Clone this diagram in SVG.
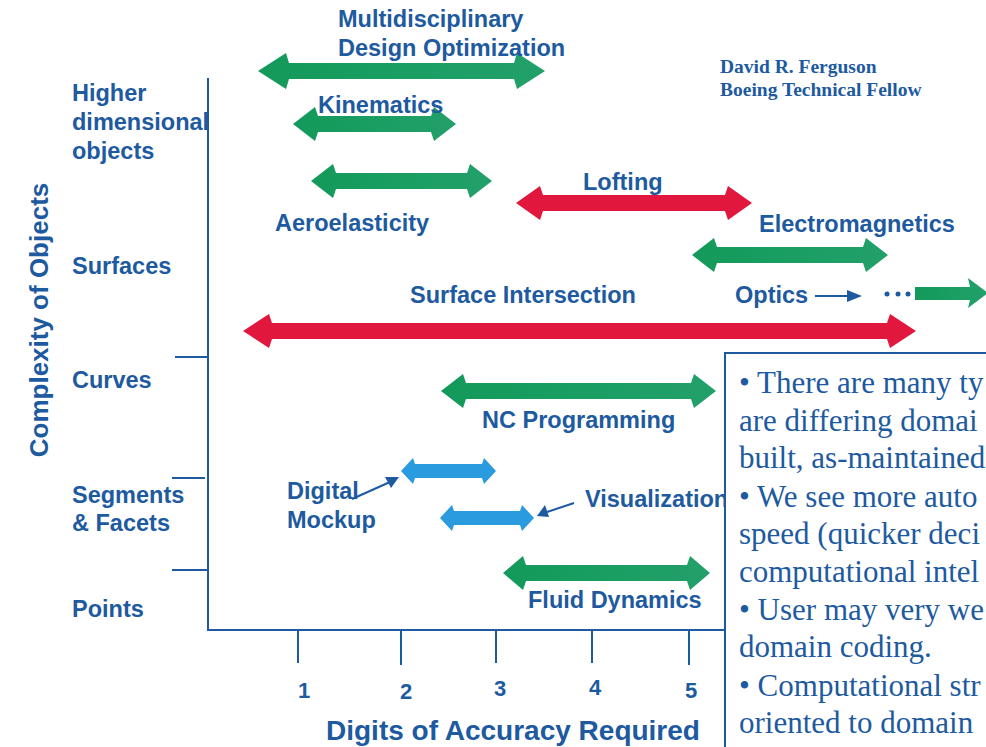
<svg xmlns="http://www.w3.org/2000/svg" width="986" height="747" viewBox="0 0 986 747">
<style>
.lbl{font-family:"Liberation Sans",Arial,sans-serif;font-weight:bold;font-size:23.5px;fill:#1d5aa0}
.ax{font-family:"Liberation Sans",Arial,sans-serif;font-weight:bold;fill:#1d5aa0}
.tm{font-family:"Liberation Serif","Times New Roman",serif;fill:#1d5aa0}
.ln{stroke:#1d5aa0;stroke-width:2;fill:none}
.g{fill:url(#gg)}
.r{fill:#e2173d}
.b{fill:#2b9be0}
.pt{fill:#1d5aa0}
</style>
<defs>
<linearGradient id="gg" x1="0" y1="0" x2="1" y2="0">
<stop offset="0" stop-color="#13995a"/>
<stop offset="0.5" stop-color="#1a9e62"/>
<stop offset="1" stop-color="#22a06a"/>
</linearGradient>
</defs>
<rect width="986" height="747" fill="#ffffff"/>

<g id="axes">
<line class="ln" x1="208" y1="78" x2="208" y2="631"/>
<line class="ln" x1="207" y1="630" x2="726" y2="630"/>
<line class="ln" x1="175" y1="357" x2="208" y2="357"/>
<line class="ln" x1="172" y1="478" x2="205" y2="478"/>
<line class="ln" x1="172" y1="570" x2="208" y2="570"/>
<line class="ln" x1="298" y1="630" x2="298" y2="663"/>
<line class="ln" x1="401" y1="630" x2="401" y2="665"/>
<line class="ln" x1="496" y1="630" x2="496" y2="663"/>
<line class="ln" x1="592" y1="630" x2="592" y2="663"/>
<line class="ln" x1="689" y1="630" x2="689" y2="665"/>
<text class="ax" font-size="22" x="304" y="698" text-anchor="middle">1</text>
<text class="ax" font-size="22" x="406" y="699" text-anchor="middle">2</text>
<text class="ax" font-size="22" x="500" y="696" text-anchor="middle">3</text>
<text class="ax" font-size="22" x="595" y="695" text-anchor="middle">4</text>
<text class="ax" font-size="22" x="691" y="698" text-anchor="middle">5</text>
<text class="ax" font-size="28" x="326" y="740">Digits of Accuracy Required</text>
<text class="ax" font-size="26" transform="translate(48,320) rotate(-90)" text-anchor="middle">Complexity of Objects</text>
<text class="lbl" x="72" y="101">Higher</text>
<text class="lbl" x="72" y="130">dimensional</text>
<text class="lbl" x="72" y="159">objects</text>
<text class="lbl" x="72" y="274">Surfaces</text>
<text class="lbl" x="72" y="388">Curves</text>
<text class="lbl" x="72" y="503">Segments</text>
<text class="lbl" x="72" y="531">&amp; Facets</text>
<text class="lbl" x="72" y="617">Points</text>
</g>

<g id="author">
<text class="tm" font-weight="bold" font-size="19.5" x="720" y="73">David R. Ferguson</text>
<text class="tm" font-weight="bold" font-size="19.5" x="720" y="96">Boeing Technical Fellow</text>
</g>

<g id="connectors">
<line class="ln" x1="352" y1="499" x2="390" y2="482"/>
<polygon class="pt" points="399,477 385,477 391,488"/>
<line class="ln" x1="574" y1="503" x2="547" y2="512"/>
<polygon class="pt" points="537,516 545,505 549,517"/>
<line class="ln" x1="815" y1="296" x2="850" y2="296"/>
<polygon class="pt" points="847,290 862,296 847,302"/>
<circle class="pt" cx="887" cy="294" r="2.5"/>
<circle class="pt" cx="898" cy="294" r="2.5"/>
<circle class="pt" cx="908" cy="294" r="2.5"/>
</g>

<g id="mdo">
<path class="g" d="M258,71 L286,53 L289,63 L514,63 L517,53 L545,71 L517,89 L514,79 L289,79 L286,89 Z"/>
<text class="lbl" x="338" y="27">Multidisciplinary</text>
<text class="lbl" x="338" y="56">Design Optimization</text>
</g>
<g id="kinematics">
<path class="g" d="M293,124 L315,107 L318,116 L431,116 L434,107 L456,124 L434,141 L431,132 L318,132 L315,141 Z"/>
<text class="lbl" x="318" y="113">Kinematics</text>
</g>
<g id="aeroelasticity">
<path class="g" d="M311,181 L333,164 L336,173 L467,173 L470,164 L492,181 L470,198 L467,189 L336,189 L333,198 Z"/>
<text class="lbl" x="275" y="231">Aeroelasticity</text>
</g>
<g id="lofting">
<path class="r" d="M516,203 L540,186 L543,195 L725,195 L728,186 L752,203 L728,220 L725,211 L543,211 L540,220 Z"/>
<text class="lbl" x="583" y="190">Lofting</text>
</g>
<g id="electromagnetics">
<path class="g" d="M692,255 L714,238 L717,247 L863,247 L866,238 L888,255 L866,272 L863,263 L717,263 L714,272 Z"/>
<text class="lbl" x="759" y="232">Electromagnetics</text>
</g>
<g id="surface-intersection">
<path class="r" d="M243,331 L269,314 L272,323 L887,323 L890,314 L916,331 L890,348 L887,339 L272,339 L269,348 Z"/>
<text class="lbl" x="410" y="303">Surface Intersection</text>
</g>
<g id="optics">
<text class="lbl" x="735" y="303">Optics</text>
<path class="g" d="M915,287 L970,287 L968,278 L988,293 L968,308 L970,300 L915,300 Z"/>
</g>
<g id="nc-programming">
<path class="g" d="M441,391 L463,374 L466,383 L691,383 L694,374 L716,391 L694,408 L691,399 L466,399 L463,408 Z"/>
<text class="lbl" x="482" y="428">NC Programming</text>
</g>
<g id="digital-mockup">
<path class="b" d="M401,471 L413,458 L415,464 L482,464 L484,458 L496,471 L484,484 L482,478 L415,478 L413,484 Z"/>
<text class="lbl" x="287" y="499">Digital</text>
<text class="lbl" x="287" y="528">Mockup</text>
</g>
<g id="visualization">
<path class="b" d="M440,518 L452,505 L454,511 L520,511 L522,505 L534,518 L522,531 L520,525 L454,525 L452,531 Z"/>
<text class="lbl" x="585" y="507">Visualization</text>
</g>
<g id="fluid-dynamics">
<path class="g" d="M503,573 L523,556 L526,565 L687,565 L690,556 L710,573 L690,590 L687,581 L526,581 L523,590 Z"/>
<text class="lbl" x="528" y="608">Fluid Dynamics</text>
</g>

<g id="notes">
<rect x="725" y="353" width="280" height="420" fill="#ffffff" stroke="#1d5aa0" stroke-width="2"/>
<g class="tm" font-size="31">
<text x="739" y="393">• There are many ty</text>
<text x="739" y="431">are differing domai</text>
<text x="739" y="468">built, as-maintained</text>
<text x="739" y="507">• We see more auto</text>
<text x="739" y="544">speed (quicker deci</text>
<text x="739" y="582">computational intel</text>
<text x="739" y="620">• User may very we</text>
<text x="739" y="657">domain coding.</text>
<text x="739" y="696">• Computational str</text>
<text x="739" y="733">oriented to domain</text>
</g>
</g>
</svg>
